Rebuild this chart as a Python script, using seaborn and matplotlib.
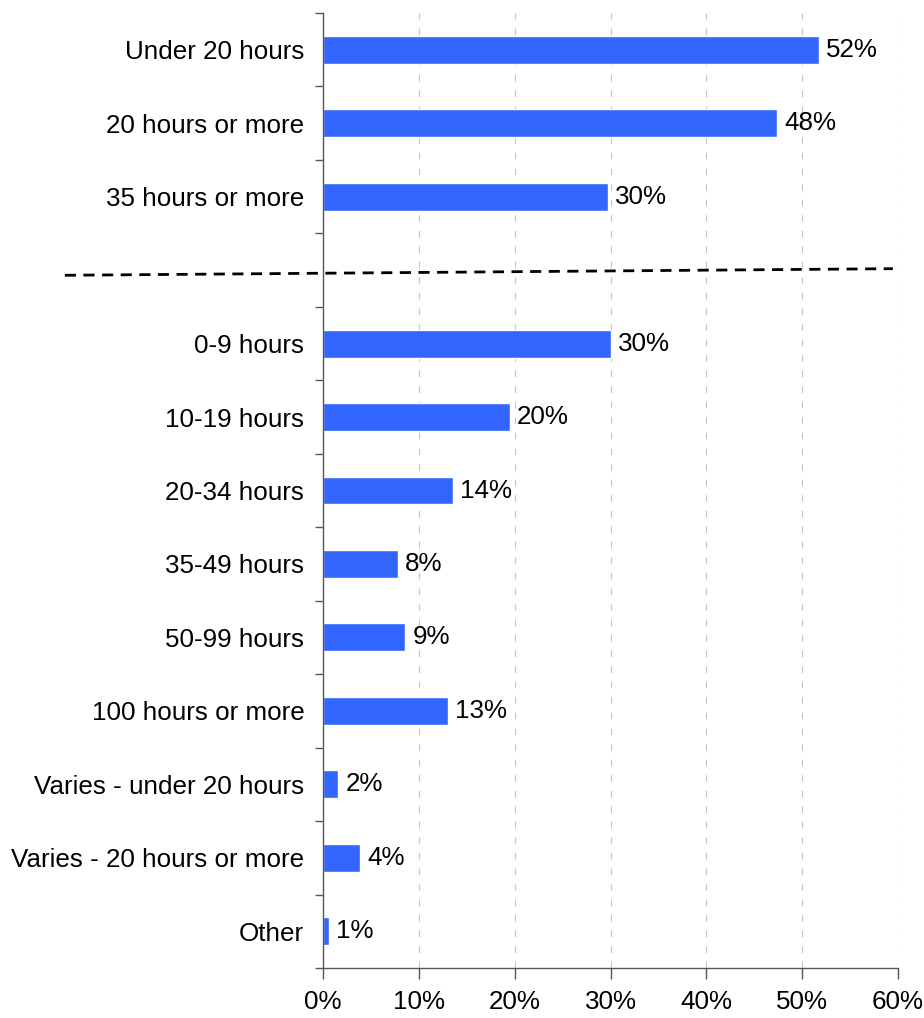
import matplotlib
matplotlib.use("Agg")
import matplotlib.pyplot as plt
import matplotlib.ticker as mticker
import matplotlib.transforms as mtransforms
import seaborn as sns
import pandas as pd

# Dados
categorias = ["Under 20 hours", "20 hours or more", "35 hours or more",
              "0-9 hours", "10-19 hours", "20-34 hours", "35-49 hours",
              "50-99 hours", "100 hours or more", "Varies - under 20 hours",
              "Varies - 20 hours or more", "Other"]
valores = [51.8, 47.4, 29.7, 30.1, 19.5, 13.6, 7.8, 8.6, 13.0, 1.6, 3.9, 0.6]
rotulos = ["52%", "48%", "30%", "30%", "20%", "14%", "8%", "9%", "13%", "2%", "4%", "1%"]
x_ticks = [0, 10, 20, 30, 40, 50, 60]

# slot vazio entre os dois grupos (onde fica a linha tracejada)
ordem = categorias[:3] + [""] + categorias[3:]

df = pd.DataFrame({"categoria": categorias, "valor": valores})

sns.set_style("white")
plt.rcParams["font.family"] = ["Liberation Sans", "DejaVu Sans"]
fs = 18.7

fig = plt.figure(figsize=(9.24, 10.18), dpi=100)
ax = fig.add_axes([0.3496, 0.0491, 0.6223, 0.9381])

sns.barplot(x="valor", y="categoria", data=df, order=ordem, orient="h",
            color="#3366FF", saturation=1, width=0.38, ax=ax)

ax.set_xlim(0, 60)
ax.set_ylim(len(ordem) - 0.5, -0.5)
ax.set_xlabel("")
ax.set_ylabel("")

# Rótulos das barras
mapa = dict(zip(categorias, rotulos))
for cont in ax.containers:
    labs = []
    for barra in cont:
        idx = int(round(barra.get_y() + barra.get_height() / 2))
        labs.append(mapa.get(ordem[idx], ""))
    ax.bar_label(cont, labels=labs, padding=5, fontsize=fs, color="black")

# Eixos
ax.xaxis.set_major_locator(mticker.FixedLocator(x_ticks))
ax.xaxis.set_major_formatter(mticker.FuncFormatter(lambda v, p: f"{v:.0f}%"))
ax.tick_params(axis="x", direction="out", length=8, width=1, color="#555555",
               labelsize=fs, labelcolor="black", pad=8, bottom=True)
ax.tick_params(axis="y", which="major", length=0, labelsize=fs, labelcolor="black",
               pad=13.5, left=True)
ax.yaxis.set_minor_locator(mticker.FixedLocator([i - 0.5 for i in range(len(ordem) + 1)]))
ax.tick_params(axis="y", which="minor", direction="out", length=6, width=1,
               color="#555555", left=True)

for lado in ["top", "right"]:
    ax.spines[lado].set_visible(False)
for lado in ["left", "bottom"]:
    ax.spines[lado].set_color("#555555")
    ax.spines[lado].set_linewidth(1)

# Grade vertical tracejada
for xv in x_ticks[1:]:
    ax.axvline(xv, color="#c4c4c4", linewidth=0.8, linestyle=(0, (6, 8)), zorder=0)

# Linha tracejada separando os grupos
trans = mtransforms.blended_transform_factory(ax.transAxes, ax.transData)
ax.plot([-0.449, 0.991], [3.07, 2.98], transform=trans, color="black",
        linewidth=2, linestyle=(0, (4, 2.7)), clip_on=False, zorder=5)

fig.savefig("out.png", dpi=100)
